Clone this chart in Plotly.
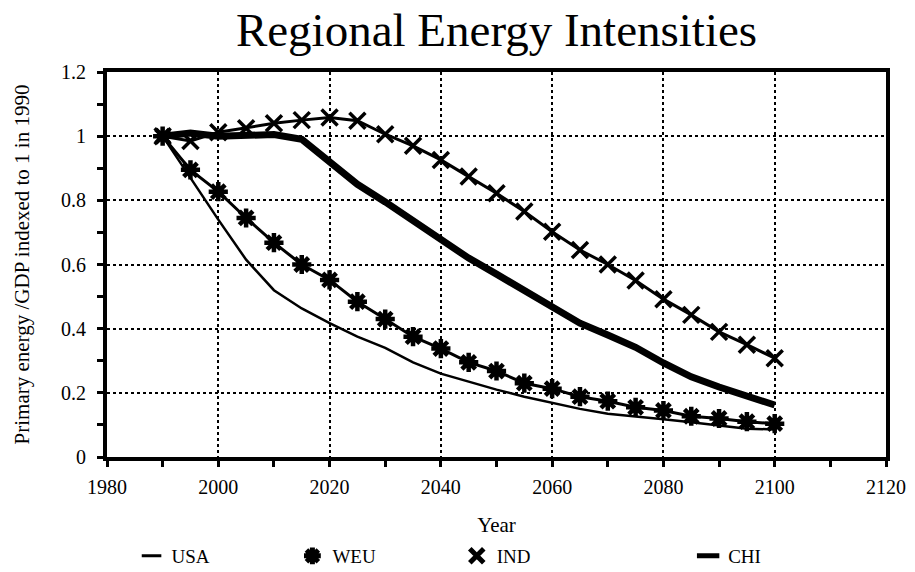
import plotly.graph_objects as go

# Energy intensity indices (primary energy / GDP, 1990 = 1)
years = [1990, 1995, 2000, 2005, 2010, 2015, 2020, 2025, 2030, 2035, 2040, 2045,
         2050, 2055, 2060, 2065, 2070, 2075, 2080, 2085, 2090, 2095, 2100]
usa = [1.0, 0.87, 0.74, 0.615, 0.52, 0.463, 0.417, 0.375, 0.34, 0.295, 0.26, 0.235,
       0.21, 0.188, 0.168, 0.15, 0.135, 0.127, 0.118, 0.108, 0.098, 0.088, 0.086]
weu = [1.0, 0.895, 0.827, 0.745, 0.668, 0.6, 0.552, 0.484, 0.43, 0.375, 0.338, 0.295,
       0.268, 0.23, 0.213, 0.188, 0.174, 0.155, 0.145, 0.127, 0.12, 0.11, 0.104]
ind = [1.0, 0.985, 1.012, 1.025, 1.04, 1.05, 1.058, 1.048, 1.006, 0.97, 0.926, 0.874,
       0.822, 0.765, 0.702, 0.645, 0.6, 0.55, 0.492, 0.443, 0.39, 0.35, 0.308]
chi = [1.0, 1.01, 1.0, 1.0, 1.005, 0.99, 0.92, 0.85, 0.795, 0.735, 0.676, 0.62,
       0.57, 0.52, 0.468, 0.417, 0.38, 0.342, 0.293, 0.25, 0.218, 0.19, 0.162]

region_names = ["USA", "WEU", "IND", "CHI"]

SERIF = "Liberation Serif, Times New Roman, serif"
BLACK = "black"

fig = go.Figure()

# Data curves
fig.add_trace(go.Scatter(x=years, y=chi, mode="lines", showlegend=False,
                         line=dict(color=BLACK, width=7)))
fig.add_trace(go.Scatter(x=years, y=usa, mode="lines", showlegend=False,
                         line=dict(color=BLACK, width=2.5)))
fig.add_trace(go.Scatter(x=years, y=weu, mode="lines+markers", showlegend=False,
                         line=dict(color=BLACK, width=3),
                         marker=dict(symbol="asterisk-open", size=16, color=BLACK,
                                     line=dict(color=BLACK, width=4.5))))
fig.add_trace(go.Scatter(x=years, y=ind, mode="lines+markers", showlegend=False,
                         line=dict(color=BLACK, width=3),
                         marker=dict(symbol="x-thin-open", size=16, color=BLACK,
                                     line=dict(color=BLACK, width=3.5))))

# Legend entries, one legend box per region
legend_symbols = [
    dict(symbol="line-ew-open", size=14, line=dict(color=BLACK, width=3)),
    dict(symbol="asterisk-open", size=14, line=dict(color=BLACK, width=5)),
    dict(symbol="x-thin-open", size=14, line=dict(color=BLACK, width=5)),
    dict(symbol="line-ew-open", size=16, line=dict(color=BLACK, width=5)),
]
legend_ids = ["legend", "legend2", "legend3", "legend4"]
legend_x = [0.0315, 0.238, 0.449, 0.746]
for name, sym, lid in zip(region_names, legend_symbols, legend_ids):
    fig.add_trace(go.Scatter(x=[None], y=[None], mode="markers", name=name,
                             legend=lid, marker=dict(color=BLACK, **sym)))

legend_common = dict(font=dict(family=SERIF, size=19, color=BLACK),
                     bgcolor="rgba(0,0,0,0)", xanchor="left", yanchor="middle",
                     yref="container", y=1 - 556 / 572, orientation="h")

axis_common = dict(
    showline=True, linecolor=BLACK, linewidth=4, mirror=True,
    ticks="outside", ticklen=6, tickwidth=3, tickcolor=BLACK,
    showgrid=True, gridcolor=BLACK, gridwidth=1.5, griddash="dot",
    zeroline=False, automargin=False,
    tickfont=dict(family=SERIF, size=20, color=BLACK),
    title_font=dict(family=SERIF, size=21, color=BLACK),
)

fig.update_layout(
    width=915, height=572,
    margin=dict(l=107, r=29, t=72, b=115),
    paper_bgcolor="white", plot_bgcolor="white",
    title=dict(text="Regional Energy Intensities", x=0.5, xref="paper",
               y=1 - 30 / 572, yref="container", xanchor="center", yanchor="middle",
               font=dict(family=SERIF, size=47, color=BLACK)),
    xaxis=dict(range=[1980, 2120], tickmode="linear", tick0=1980, dtick=20,
               minor=dict(dtick=10, ticks="outside", ticklen=6, tickwidth=3,
                          tickcolor=BLACK, showgrid=False),
               ticklabelstandoff=3,
               title=dict(text="Year", standoff=21), **axis_common),
    yaxis=dict(range=[0, 1.2], tickmode="linear", tick0=0, dtick=0.2,
               minor=dict(dtick=0.1, ticks="outside", ticklen=6, tickwidth=3,
                          tickcolor=BLACK, showgrid=False),
               ticklabelstandoff=7,
               title=dict(text="Primary energy /GDP indexed to 1 in 1990", standoff=27),
               **axis_common),
    legend=dict(x=legend_x[0], **legend_common),
    legend2=dict(x=legend_x[1], **legend_common),
    legend3=dict(x=legend_x[2], **legend_common),
    legend4=dict(x=legend_x[3], **legend_common),
)

fig.write_html("out.html")
